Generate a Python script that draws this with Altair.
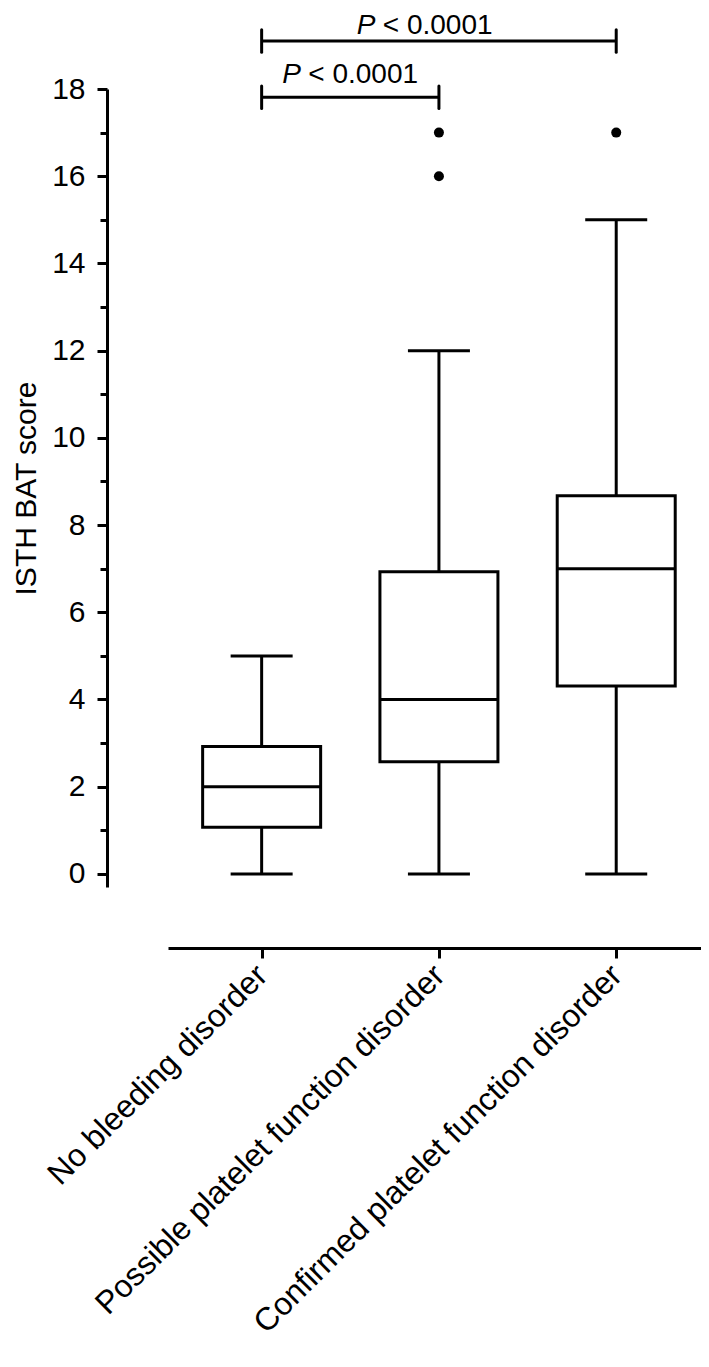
import altair as alt
import pandas as pd

FONT = "Liberation Sans, Arial, Helvetica, sans-serif"

# ---- data ----
groups = ["No bleeding disorder",
          "Possible platelet function disorder",
          "Confirmed platelet function disorder"]
group_pos = [1, 2, 3]
whisker_low = [0, 0, 0]
q1 = [1.07, 2.57, 4.31]
median = [2, 4, 7]
q3 = [2.92, 6.93, 8.67]
whisker_high = [5, 12, 15]

outlier_pos = [2, 2, 3]
outlier_val = [16, 17, 17]

bracket_start = [1, 1]
bracket_end = [2, 3]
bracket_y = [17.81, 19.10]
bracket_tick_low = [17.55, 18.84]
bracket_tick_high = [18.07, 19.36]
label_x = [1.5, 1.92]
label_y = [18.14, 19.25]
label_p = ["P", "P"]
label_rest = ["< 0.0001", "< 0.0001"]

y_ticks = list(range(0, 19))

# ---- tables ----
box_df = pd.DataFrame({"pos": group_pos, "group": groups, "lo": whisker_low,
                       "q1": q1, "med": median, "q3": q3, "hi": whisker_high})
cap_df = pd.DataFrame({"pos": group_pos + group_pos,
                       "v": whisker_low + whisker_high})
out_df = pd.DataFrame({"pos": outlier_pos, "v": outlier_val})
br_df = pd.DataFrame({"s": bracket_start, "e": bracket_end, "y": bracket_y})
end_df = pd.DataFrame({"x": bracket_start + bracket_end,
                       "lo": bracket_tick_low + bracket_tick_low,
                       "hi": bracket_tick_high + bracket_tick_high})
lab_df = pd.DataFrame({"x": label_x, "y": label_y, "p": label_p, "t": label_rest})

label_array = "[" + ",".join("'" + g + "'" for g in groups) + "]"

xscale = alt.Scale(domain=[0.5, 3.45], nice=False, zero=False)
yscale = alt.Scale(domain=[-0.3, 18], nice=False, zero=False)

x_axis = alt.Axis(values=group_pos, labelExpr=label_array + "[datum.value - 1]",
                  labelAngle=315, labelAlign="right", labelBaseline="middle",
                  labelFontSize=32, labelFont=FONT, labelColor="black",
                  labelPadding=12, tickSize=10, tickWidth=3, tickColor="black",
                  domainWidth=3, domainColor="black", offset=61, grid=False,
                  labelOverlap=False, labelFlush=False, labelLimit=0)
y_axis = alt.Axis(values=y_ticks,
                  labelExpr="datum.value % 2 == 0 ? datum.label : ''",
                  tickSize={"condition": {"test": "datum.value % 2 == 1", "value": 7},
                            "value": 10},
                  tickWidth=3, tickColor="black", domainWidth=3, domainColor="black",
                  labelFontSize=30, labelFont=FONT, labelColor="black",
                  labelPadding=12, titleFontSize=30, titleFont=FONT,
                  titleFontWeight="normal", titleColor="black", titlePadding=10,
                  offset=61, grid=False, labelOverlap=False, labelFlush=False)

YT = "ISTH BAT score"


def X(field):
    return alt.X(field, type="quantitative", scale=xscale, axis=x_axis, title=None)


def Y(field):
    return alt.Y(field, type="quantitative", scale=yscale, axis=y_axis, title=YT)


whiskers = alt.Chart(box_df).mark_rule(color="black", strokeWidth=3).encode(
    x=X("pos"), y=Y("lo"), y2="hi")
caps = alt.Chart(cap_df).mark_tick(orient="horizontal", size=62, thickness=3,
                                   color="black", opacity=1).encode(
    x=X("pos"), y=Y("v"))
boxes = alt.Chart(box_df).mark_bar(size=118, fill="white", stroke="black",
                                   strokeWidth=3, orient="vertical").encode(
    x=X("pos"), y=Y("q1"), y2="q3")
medians = alt.Chart(box_df).mark_tick(orient="horizontal", size=118, thickness=3,
                                      color="black", opacity=1).encode(
    x=X("pos"), y=Y("med"))
outliers = alt.Chart(out_df).mark_point(filled=True, shape="circle", size=100,
                                        color="black", opacity=1).encode(
    x=X("pos"), y=Y("v"))
brackets = alt.Chart(br_df).mark_rule(color="black", strokeWidth=3).encode(
    x=X("s"), x2="e", y=Y("y"))
bracket_ends = alt.Chart(end_df).mark_rule(color="black", strokeWidth=3,
                                           strokeCap="round").encode(
    x=X("x"), y=Y("lo"), y2="hi")
p_text = alt.Chart(lab_df).mark_text(align="left", baseline="alphabetic",
                                     fontStyle="italic", fontSize=28, font=FONT,
                                     color="black", dx=-68).encode(
    x=X("x"), y=Y("y"), text="p:N")
rest_text = alt.Chart(lab_df).mark_text(align="left", baseline="alphabetic",
                                        fontSize=28, font=FONT, color="black",
                                        dx=-42).encode(
    x=X("x"), y=Y("y"), text="t:N")

chart = alt.layer(whiskers, caps, boxes, medians, outliers, brackets,
                  bracket_ends, p_text, rest_text).properties(
    width=533, height=798,
    autosize=alt.AutoSizeParams(type="none"),
    padding={"left": 160, "top": 81, "right": 0, "bottom": 465},
    background="white",
).configure_view(stroke=None)

chart.save("out.html", embed_options={"renderer": "svg", "actions": False})
